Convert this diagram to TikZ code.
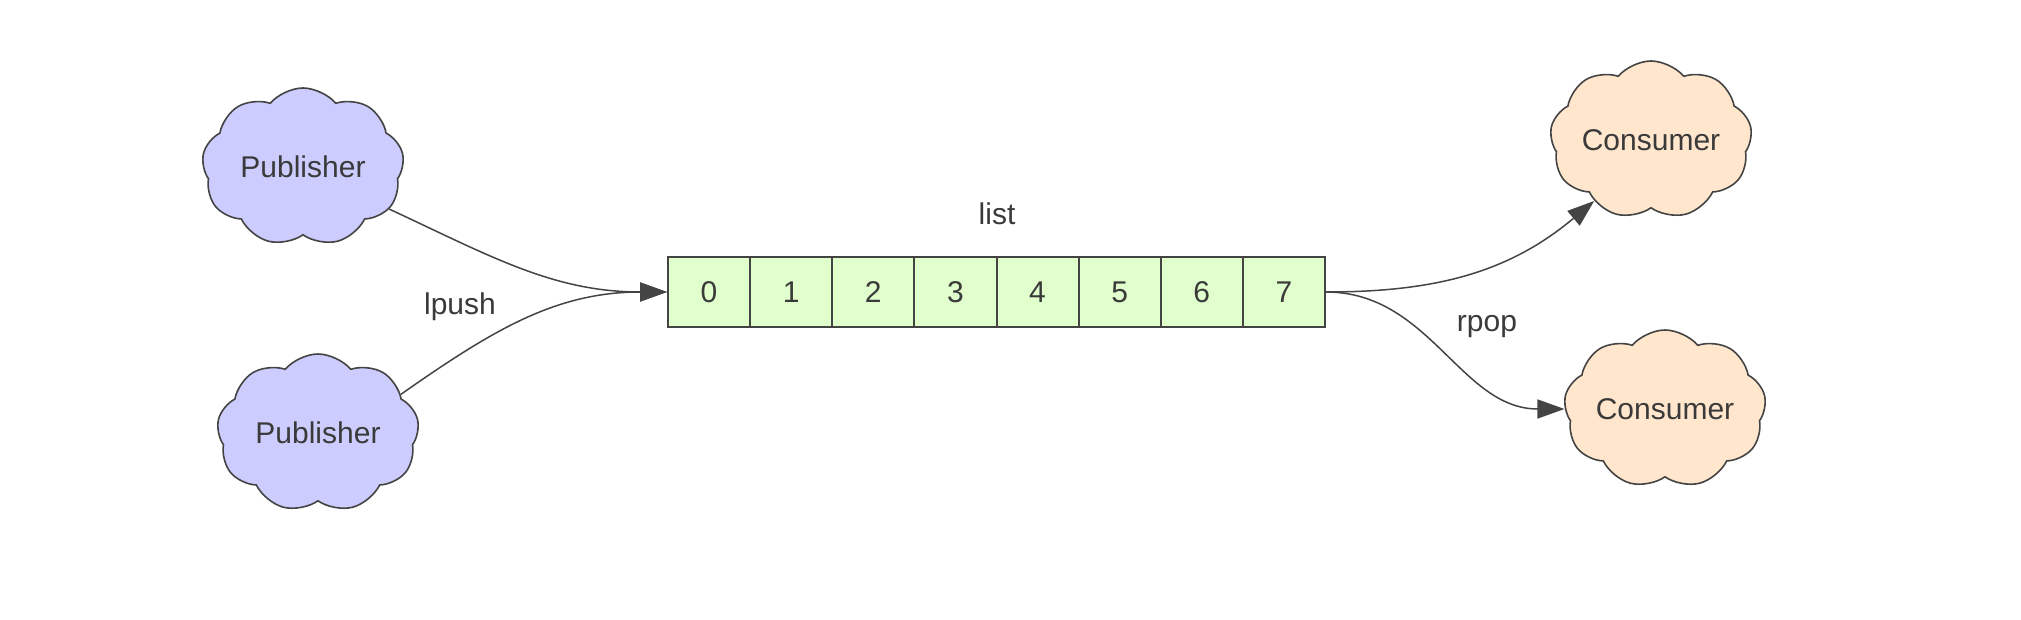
\documentclass[tikz,border=0pt]{standalone}
\usepackage{fontspec}
\setmainfont{Liberation Sans}
\usetikzlibrary{shapes.symbols,arrows.meta}
\definecolor{pubfill}{HTML}{CCCCFF}
\definecolor{consfill}{HTML}{FFE6CC}
\definecolor{cellfill}{HTML}{E0FFCC}
\definecolor{stroke}{HTML}{444444}
\definecolor{txt}{HTML}{3A3A3A}
\tikzset{
  cloudnode/.style={cloud, cloud puffs=9, cloud puff arc=100, cloud ignores aspect,
    minimum width=202pt, minimum height=158pt, draw=stroke, line width=1.6pt,
    text=txt, font=\fontsize{30}{36}\selectfont, inner sep=0pt},
  pubnode/.style={cloudnode, fill=pubfill},
  consnode/.style={cloudnode, fill=consfill},
  cellnode/.style={rectangle, draw=stroke, line width=2pt, fill=cellfill,
    minimum width=82.125pt, minimum height=70pt, inner sep=0pt, text=txt,
    font=\fontsize{30}{36}\selectfont},
  lbl/.style={text=txt, font=\fontsize{30}{36}\selectfont, inner sep=0pt},
  conn/.style={draw=stroke, line width=1.5pt, -{Triangle[length=27pt,width=19pt]}}
}
\begin{document}
\begin{tikzpicture}[x=1pt,y=-1pt]
\useasboundingbox (0,0) rectangle (2021,620);
\node[pubnode] (pub1) at (303,167) {Publisher};
\node[pubnode] (pub2) at (318,433) {Publisher};
\node[consnode] (cons1) at (1651,140) {Consumer};
\node[consnode] (cons2) at (1665,409) {Consumer};
\foreach \i in {0,...,7}{
  \node[cellnode] (c\i) at ({668+41.0625+82.125*\i},292) {\i};
}
\node[lbl] (listlbl) at (997,214) {list};
\node[lbl] (lpush) at (460,307) {lpush};
\node[lbl] (rpop) at (1487,327) {rpop};
\draw[conn] (pub1.-26) to[out=-25,in=180] (c0.west);
\draw[conn] (pub2.25) to[out=35,in=180] (c0.west);
\draw[conn] (c7.east) to[out=0,in=220] (cons1.-133);
\draw[conn] (c7.east) to[out=0,in=180] (cons2.west);
\end{tikzpicture}
\end{document}
